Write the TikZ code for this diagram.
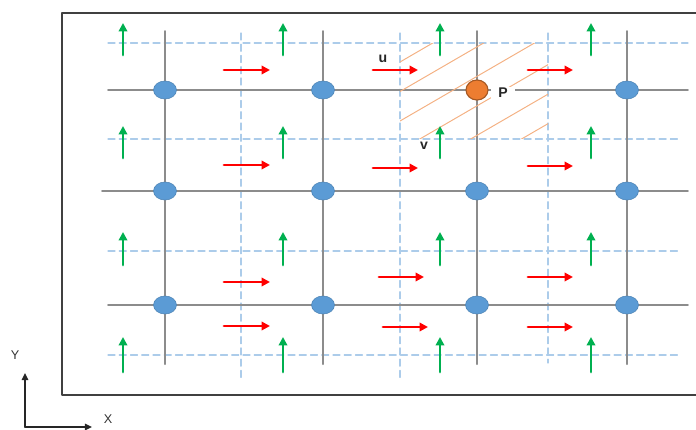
\documentclass[tikz,border=0pt]{standalone}
\usepackage{fontspec}
\setmainfont{Liberation Sans}
\usetikzlibrary{arrows.meta}
\definecolor{dotblue}{HTML}{5B9BD5}
\definecolor{dashblue}{HTML}{9DC3E6}
\definecolor{porange}{HTML}{ED7D31}
\definecolor{hatchorange}{HTML}{F4B183}
\definecolor{ugreen}{HTML}{00B050}
\tikzset{
	frame/.style={line width=1.6pt,draw=black!75},
	gridline/.style={line width=1.3pt,draw=black!45},
	halfline/.style={line width=0.8pt,draw=dashblue!85!white,dash pattern=on 5pt off 3pt},
	hatch/.style={line width=0.7pt,draw=hatchorange},
	uarrow/.style={line width=2pt,draw=red,-{Triangle[length=6pt,width=6pt]}},
	varrow/.style={line width=2pt,draw=ugreen,-{Triangle[length=6pt,width=6pt]}},
	dot/.style={ellipse,minimum width=0.575cm,minimum height=0.45cm,inner sep=0pt,fill=dotblue,draw=dotblue!85!black,line width=0.4pt},
	pdot/.style={ellipse,minimum width=0.55cm,minimum height=0.5cm,inner sep=0pt,fill=porange,draw=porange!70!black,line width=0.8pt},
	lab/.style={font=\bfseries,text=black!85,inner sep=1pt},
	axis/.style={line width=1.1pt,draw=black!85,-{Triangle[length=5pt,width=4.5pt]}}
}
\usetikzlibrary{shapes.geometric}
\begin{document}
\begin{tikzpicture}[scale=1,line join=round,line cap=round]
	\useasboundingbox (0,0) rectangle (17.4,10.725);
	% outer frame (right side runs past the page)
	\draw[frame] (1.55,0.85) rectangle (17.8,10.4);
	% grid points
	\foreach \i/\x in {1/4.125,2/8.075,3/11.925,4/15.675}
		\foreach \j/\y in {1/8.475,2/5.95,3/3.1}
			\coordinate (g-\i-\j) at (\x,\y);
	% dashed half-cell lines
	\foreach \y/\xe in {9.65/17.2,7.25/17.0,4.45/17.0,1.85/17.0}
		\draw[halfline] (2.7,\y) -- (\xe,\y);
	\foreach \x/\ye in {6.025/1.275,10.0/1.275,13.7/1.65}
		\draw[halfline] (\x,9.9) -- (\x,\ye);
	% solid grid lines
	\foreach \i in {1,...,4}
		\draw[gridline] (g-\i-1 |- 0,9.95) -- (g-\i-3 |- 0,1.62);
	\foreach \j/\xs in {1/2.7,2/2.55,3/2.7}
		\draw[gridline] (g-1-\j -| \xs,0) -- (g-4-\j -| 17.2,0);
	% hatched cell
	\begin{scope}
		\clip (10,7.275) rectangle (13.7,9.65);
		\foreach \k in {0,...,5}
			\draw[hatch] (10,9.175-0.7375*\k) -- ++(3.7,2.146);
	\end{scope}
	% u velocities
	\foreach \xa/\xb/\y in {
		5.6/6.75/8.975, 9.325/10.45/8.975, 13.2/14.325/8.975,
		5.6/6.75/6.6, 9.325/10.45/6.525, 13.2/14.325/6.575,
		5.6/6.75/3.675, 9.475/10.6/3.8, 13.2/14.325/3.8,
		5.6/6.75/2.575, 9.575/10.7/2.55, 13.2/14.325/2.55
	}
		\draw[uarrow] (\xa,\y) -- (\xb,\y);
	% v velocities
	\foreach \x in {3.075,7.075,11.0,14.775}
		\foreach \ya/\yb in {9.35/10.15,6.775/7.575,4.1/4.925,1.425/2.3}
			\draw[varrow] (\x,\ya) -- (\x,\yb);
	% pressure points
	\foreach \i/\j in {1/1,2/1,4/1,1/2,2/2,3/2,4/2,1/3,2/3,3/3,4/3}
		\node[dot] (d-\i-\j) at (g-\i-\j) {};
	\node[pdot] (P) at (g-3-1) {};
	\node[lab,fill=white,inner xsep=5pt] (plab) at (12.575,8.4) {P};
	\node[lab] (ulab) at (9.575,9.25) {u};
	\node[lab] (vlab) at (10.6,7.075) {v};
	% axes
	\coordinate (O) at (0.625,0.05);
	\coordinate (Yt) at (0.625,1.4);
	\coordinate (Xt) at (2.3,0.05);
	\draw[axis] (O) -- (Yt);
	\draw[axis] (O) -- (Xt);
	\node[font=\small,text=black!80] (ylab) at (0.375,1.85) {Y};
	\node[font=\small,text=black!80] (xlab) at (2.7,0.25) {X};
\end{tikzpicture}
\end{document}
